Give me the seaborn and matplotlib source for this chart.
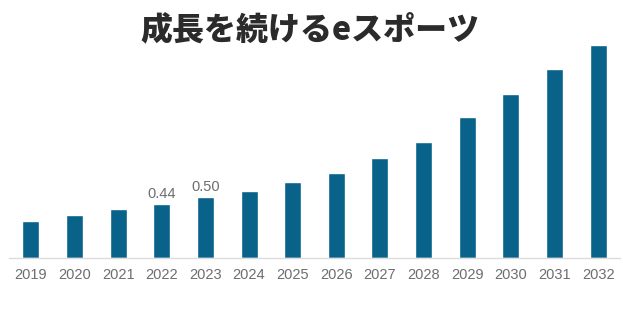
import pandas as pd
import matplotlib
matplotlib.use("Agg")
import matplotlib.pyplot as plt
import seaborn as sns

# Dados do gráfico
anos = ["2019", "2020", "2021", "2022", "2023", "2024", "2025",
        "2026", "2027", "2028", "2029", "2030", "2031", "2032"]
valores = [0.30, 0.35, 0.40, 0.44, 0.50, 0.55, 0.62,
           0.70, 0.82, 0.95, 1.16, 1.35, 1.55, 1.75]
rotulos = {"2022": "0.44", "2023": "0.50"}
titulo = "成長を続けるeスポーツ"

sns.set_theme(style="white")
plt.rcParams['font.family'] = ['Noto Sans CJK JP', 'DejaVu Sans']

df = pd.DataFrame({"ano": anos, "valor": valores})

fig = plt.figure(figsize=(6.23, 3.10), dpi=100)
ax = fig.add_axes([9 / 623, 52 / 310, 611 / 623, 218 / 310])
sns.barplot(data=df, x="ano", y="valor", color="#08628a", width=0.39,
            saturation=1, ax=ax)

ax.set_ylim(0, 1.79)
ax.set_xlim(-0.5, len(anos) - 0.5)
ax.set_xlabel("")
ax.set_ylabel("")
ax.set_yticks([])
for lado in ["left", "right", "top"]:
    ax.spines[lado].set_visible(False)
ax.spines["bottom"].set_color("#dcdcdc")
ax.spines["bottom"].set_linewidth(1)
ax.tick_params(axis="x", length=0, pad=7)
ax.set_xticks(range(len(anos)))
ax.set_xticklabels(anos, fontsize=10.5, color="#6e6e6e", family="Liberation Sans")

for i, ano in enumerate(anos):
    if ano in rotulos:
        ax.annotate(rotulos[ano], (i, valores[i]), xytext=(0, 2.5),
                    textcoords="offset points", ha="center", va="bottom",
                    fontsize=10.5, color="#6e6e6e", family="Liberation Sans")

fig.text(0.498, 0.905, titulo, ha="center", va="center", fontsize=23,
         fontweight="heavy", color="#2b2b2b")

fig.savefig("out.png", dpi=100)
